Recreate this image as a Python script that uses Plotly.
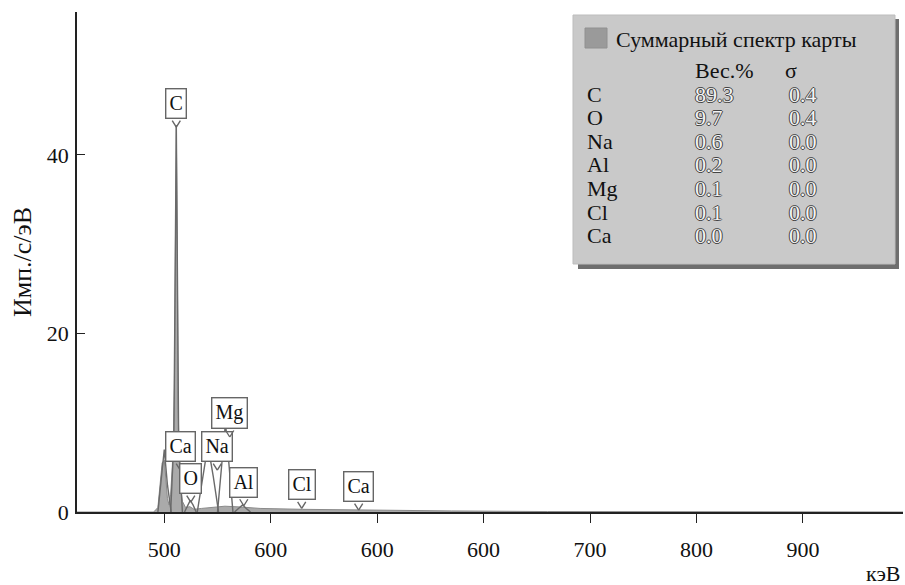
import plotly.graph_objects as go

# ---- data ----
spec_x = [418, 490, 494, 496, 498, 500, 501.5, 503, 504.5, 506, 507.5, 508.5, 509.5, 510.3, 511.3,
          512.2, 513, 514, 515, 517, 520, 524, 528, 535, 545, 557, 573, 590, 630, 684, 770, 860, 1000, 1194]
spec_y = [0, 0, 0.5, 3, 5.5, 5.8, 4, 1.5, 0.8, 2, 5, 8, 14, 29, 43.3,
          29, 12, 6, 3, 1.2, 0.5, 0.6, 0.3, 0.4, 0.55, 0.65, 0.55, 0.4, 0.3, 0.22, 0.12, 0.05, 0, 0]

peak_names = ["Ca", "C", "O", "Na", "Mg", "Al"]
peak_x = [
    [494, 497, 500, 503, 506.5],
    [506, 509, 511.3, 513.5, 517],
    [519, 522, 524.4, 527, 530],
    [531, 536, 541, 546, 551],
    [550, 554, 557.5, 561, 564.5],
    [566, 570, 573.5, 577, 581],
]
peak_y = [
    [0, 3.5, 7, 3, 0],
    [0, 8, 43.3, 8, 0],
    [0, 0.8, 1.3, 0.8, 0],
    [0, 4, 7.5, 4, 0],
    [0, 5, 10, 5, 0],
    [0, 0.4, 0.8, 0.4, 0],
]

label_text = ["C", "Ca", "Na", "Mg", "O", "Al", "Cl", "Ca"]
label_x = [511.3, 515, 549.8, 561.5, 524.9, 574.7, 629.1, 682.6]
label_y = [43.1, 4.7, 4.7, 8.4, 1.1, 0.7, 0.4, 0.22]

x_tickvals = [500, 600, 700, 800, 900, 1000, 1100]
x_ticktext = ["500", "600", "600", "600", "700", "800", "900"]
y_tickvals = [0, 20, 40]

tbl_elem = ["C", "O", "Na", "Al", "Mg", "Cl", "Ca"]
tbl_wt = ["89.3", "9.7", "0.6", "0.2", "0.1", "0.1", "0.0"]
tbl_sigma = ["0.4", "0.4", "0.0", "0.0", "0.0", "0.0", "0.0"]

FONT = "Liberation Serif"
W, H = 905, 585
L, R, T, B = 77, 2, 12, 73
PW, PH = W - L - R, H - T - B


def px2paper(px, py):
    return (px - L) / PW, (H - B - py) / PH


fig = go.Figure()
fig.add_trace(go.Scatter(x=spec_x, y=spec_y, mode="lines", fill="tozeroy",
                         fillcolor="#aaaaaa", line=dict(color="#8a8a8a", width=1),
                         hoverinfo="skip", showlegend=False))
for nm, xs, ys in zip(peak_names, peak_x, peak_y):
    fig.add_trace(go.Scatter(x=xs, y=ys, mode="lines", name=nm,
                             line=dict(color="#6a6a6a", width=1.4),
                             showlegend=False))

ann = []
shapes = []
# callout labels
for t, x, y in zip(label_text, label_x, label_y):
    for dx in (-5, 5):
        ann.append(dict(x=x, y=y, xref="x", yref="y", text="", showarrow=True,
                        arrowhead=0, ax=dx, ay=-8, arrowcolor="#666666", arrowwidth=1.4))
    ann.append(dict(x=x, y=y, xref="x", yref="y", text=t, showarrow=False,
                    yanchor="bottom", yshift=8, bgcolor="white", bordercolor="#666666",
                    borderwidth=1.4, borderpad=3,
                    font=dict(family=FONT, size=20, color="#111")))

# table box with shadow
x0, y1 = px2paper(578, 19)
x1, y0 = px2paper(899, 269)
shapes.append(dict(type="rect", xref="paper", yref="paper", x0=x0, x1=x1, y0=y0, y1=y1,
                   fillcolor="#6e6e6e", line=dict(width=0), layer="above"))
x0, y1 = px2paper(573, 15)
x1, y0 = px2paper(895, 264)
shapes.append(dict(type="rect", xref="paper", yref="paper", x0=x0, x1=x1, y0=y0, y1=y1,
                   fillcolor="#c9c9c9", line=dict(color="#bdbdbd", width=1), layer="above"))
x0, y1 = px2paper(585, 28)
x1, y0 = px2paper(607, 48)
shapes.append(dict(type="rect", xref="paper", yref="paper", x0=x0, x1=x1, y0=y0, y1=y1,
                   fillcolor="#9a9a9a", line=dict(color="#909090", width=1), layer="above"))


def txt(px, py, s, color="#111", shadow=None, size=22):
    xp, yp = px2paper(px, py)
    f = dict(family=FONT, size=size, color=color)
    if shadow:
        f["shadow"] = shadow
    ann.append(dict(x=xp, y=yp, xref="paper", yref="paper", text=s, showarrow=False,
                    xanchor="left", yanchor="middle", font=f))


txt(614, 39, "Суммарный спектр карты", size=22)
txt(693, 70, "Вес.%")
txt(783, 70, "σ")
emb = "1px 0px 0px #444, -1px 0px 0px #444, 0px 1px 0px #444, 0px -1px 0px #444"
for i, (e, w, s) in enumerate(zip(tbl_elem, tbl_wt, tbl_sigma)):
    py = 94 + i * 23.6
    txt(585, py, e)
    txt(693, py, w, color="#f4f4f4", shadow=emb)
    txt(787, py, s, color="#f4f4f4", shadow=emb)

# x-axis unit label
ann.append(dict(x=1, y=(H - B - 573) / PH, xref="paper", yref="paper", text="кэВ",
                showarrow=False, xanchor="right", yanchor="middle",
                font=dict(family=FONT, size=22, color="#111")))

fig.update_layout(
    width=W, height=H, margin=dict(l=L, r=R, t=T, b=B, autoexpand=False),
    paper_bgcolor="white", plot_bgcolor="white",
    annotations=ann, shapes=shapes,
    xaxis=dict(range=[418, 1194], tickvals=x_tickvals, ticktext=x_ticktext,
               showline=True, linecolor="#222", linewidth=1.5, ticks="outside",
               ticklen=9, tickcolor="#222", tickwidth=1.3, showgrid=False, zeroline=False,
               ticklabelstandoff=8, automargin=False,
               tickfont=dict(family=FONT, size=22, color="#111")),
    yaxis=dict(range=[0, 56], tickvals=y_tickvals, showline=True, linecolor="#222",
               linewidth=1.5, ticks="inside", ticklen=8, tickcolor="#222", tickwidth=1.3,
               showgrid=False, zeroline=False, ticklabelstandoff=2, automargin=False,
               tickfont=dict(family=FONT, size=22, color="#111"),
               title=dict(text="Имп./с/эВ", standoff=8,
                          font=dict(family=FONT, size=26, color="#111"))),
)

fig.write_html("out.html", config={"displayModeBar": False},
               post_script="document.body.style.margin='0';document.body.style.overflow='hidden';")
